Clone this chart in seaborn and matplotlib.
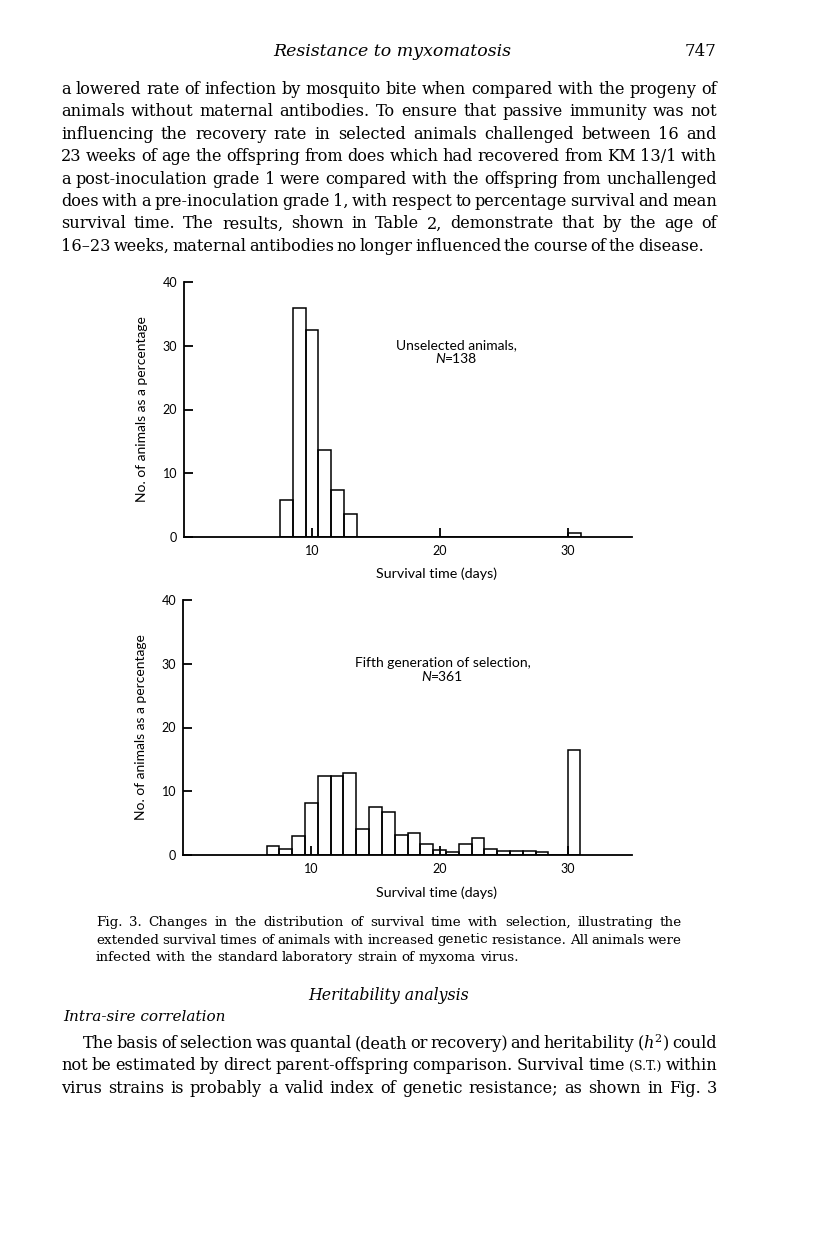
import numpy as np
import matplotlib.pyplot as plt
import seaborn as sns

# -------------------------------
# Data (percent of animals per day of survival)
# the last bin (30-31) holds the survivors
top_days = [8, 9, 10, 11, 12, 13, 30.5]
top_pct = [5.8, 35.9, 32.5, 13.7, 7.3, 3.6, 0.6]
top_edges = [7.5, 8.5, 9.5, 10.5, 11.5, 12.5, 13.5, 30, 31]

bottom_days = [7, 8, 9, 10, 11, 12, 13, 14, 15, 16, 17, 18, 19, 20,
               21, 22, 23, 24, 25, 26, 27, 28, 30.5]
bottom_pct = [1.4, 0.9, 3.0, 8.1, 12.4, 12.4, 12.8, 4.1, 7.6, 6.7, 3.1, 3.5,
              1.7, 0.8, 0.5, 1.7, 2.7, 1.0, 0.7, 0.7, 0.7, 0.5, 16.5]
bottom_edges = list(np.arange(6.5, 29.0, 1.0)) + [30, 31]

x_ticks = [10, 20, 30]
y_ticks = [0, 10, 20, 30, 40]
panel_titles = ["Unselected animals,", "Fifth generation of selection,"]
panel_n = ["=138", "=361"]

header = "Resistance to myxomatosis"
page_no = "747"
para1 = [
    "a lowered rate of infection by mosquito bite when compared with the progeny of",
    "animals without maternal antibodies. To ensure that passive immunity was not",
    "influencing the recovery rate in selected animals challenged between 16 and",
    "23 weeks of age the offspring from does which had recovered from KM 13/1 with",
    "a post-inoculation grade 1 were compared with the offspring from unchallenged",
    "does with a pre-inoculation grade 1, with respect to percentage survival and mean",
    "survival time. The results, shown in Table 2, demonstrate that by the age of",
    "16\u201323 weeks, maternal antibodies no longer influenced the course of the disease.",
]
caption = [
    "Fig. 3. Changes in the distribution of survival time with selection, illustrating the",
    "extended survival times of animals with increased genetic resistance. All animals were",
    "infected with the standard laboratory strain of myxoma virus.",
]
para2 = [
    "The basis of selection was quantal (death or recovery) and heritability ($h^2$) could",
    "not be estimated by direct parent-offspring comparison. Survival time (S.T.) within",
    "virus strains is probably a valid index of genetic resistance; as shown in Fig. 3",
]

# -------------------------------
sns.set_style("ticks")
plt.rcParams['font.family'] = ['Lato', 'DejaVu Sans']
plt.rcParams['mathtext.fontset'] = 'dejavuserif'
for key in ['text.color', 'axes.labelcolor', 'xtick.color', 'ytick.color', 'axes.edgecolor']:
    plt.rcParams[key] = 'black'

W, H = 816, 1234
fig = plt.figure(figsize=(W / 100, H / 100), dpi=100)
r = fig.canvas.get_renderer()
SERIF = 'DejaVu Serif'


def word_texts(text, size):
    ts = []
    for w in text.split(' '):
        fs = size * 0.78 if w == "(S.T.)" else size
        ts.append(fig.text(0, 0, w, fontsize=fs, family=SERIF,
                           va='baseline', ha='left'))
    return ts


def space_width(size):
    a = fig.text(0, 0, "a a", fontsize=size, family=SERIF)
    b = fig.text(0, 0, "aa", fontsize=size, family=SERIF)
    g = a.get_window_extent(r).width - b.get_window_extent(r).width
    a.remove()
    b.remove()
    return g


def put_line(text, x0, x1, y_px, size, justify=True):
    ts = word_texts(text, size)
    widths = [t.get_window_extent(r).width for t in ts]
    if justify and len(ts) > 1:
        gap = (x1 - x0 - sum(widths)) / (len(ts) - 1)
    else:
        gap = space_width(size)
    x = x0
    for t, w in zip(ts, widths):
        t.set_position((x / W, 1 - y_px / H))
        x += w + gap


def paragraph(lines, x0s, x1s, y0, step, size, natural=()):
    for i, line in enumerate(lines):
        put_line(line, x0s[i], x1s[i], y0 + step * i, size, justify=(i not in natural))


# running head
fig.text(392 / W, 1 - 56 / H, header, family=SERIF,
         style='italic', fontsize=12.5, ha='center', va='baseline')
fig.text(717 / W, 1 - 56 / H, page_no, family=SERIF, fontsize=12,
         ha='right', va='baseline')

paragraph(para1, [61] * 8, [717] * 7 + [704], 94, 22.4, 11.6)
paragraph(caption, [96] * 3, [682] * 3, 926, 17.5, 9.7, natural=(2,))

fig.text(389 / W, 1 - 1000 / H, "Heritability analysis", family=SERIF,
         style='italic', fontsize=11.3, ha='center', va='baseline')
fig.text(63 / W, 1 - 1021 / H, "Intra-sire correlation", family=SERIF,
         style='italic', fontsize=11, ha='left', va='baseline')

paragraph(para2, [83, 61, 61], [717] * 3, 1048, 22.4, 11.6)

# -------------------------------
# the two histograms
panels = [
    (top_days, top_pct, top_edges, [184 / W, 1 - 536.7 / H, 447.7 / W, 254.4 / H], 21.3),
    (bottom_days, bottom_pct, bottom_edges, [183.3 / W, 1 - 855 / H, 448.4 / W, 255 / H], 20.25),
]

for k, (days, pct, edges, rect, tx) in enumerate(panels):
    ax = fig.add_axes(rect)
    sns.histplot(x=days, weights=pct, bins=edges, ax=ax, fill=False,
                 color='black', linewidth=1.1)
    ax.set_xlim(0, 35)
    ax.set_ylim(0, 40)
    ax.set_xticks(x_ticks)
    ax.set_yticks(y_ticks)
    sns.despine(ax=ax)
    for s in ['left', 'bottom']:
        ax.spines[s].set_linewidth(1.3)
    ax.tick_params(direction='in', length=6.5, width=1.3, labelsize=9,
                   pad=5, colors='black')
    ax.tick_params(axis='x', pad=6)
    ax.set_ylabel('No. of animals as a percentage', fontsize=10)
    ax.yaxis.set_label_coords(-0.080, 0.5)
    ax.set_xlabel('Survival time (days)', fontsize=10.3)
    ax.xaxis.set_label_coords(0.564, -0.122)
    ax.text(tx, 30.1, panel_titles[k], fontsize=10, ha='center', va='center')
    ax.text(tx - 0.9, 27.9, "N", fontsize=10, style='italic', ha='right', va='center')
    ax.text(tx - 0.9, 27.9, panel_n[k], fontsize=10, ha='left', va='center')

fig.savefig('out.png', dpi=100)
